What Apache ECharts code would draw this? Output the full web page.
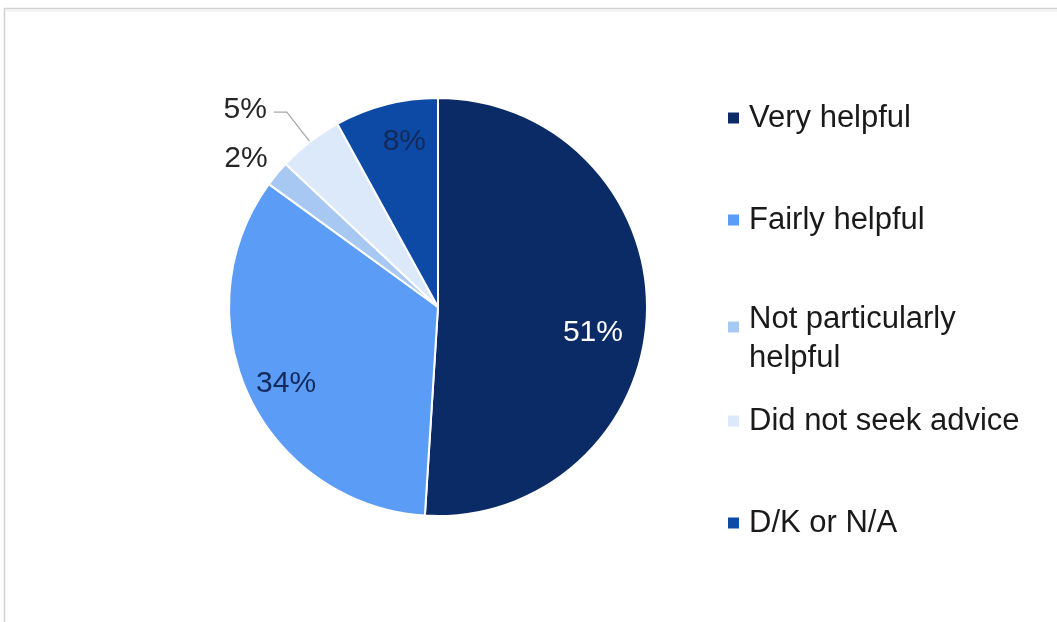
<!DOCTYPE html>
<html>
<head>
<meta charset="utf-8">
<script src="https://cdn.jsdelivr.net/npm/echarts@6/dist/echarts.min.js"></script>
<style>
  html, body { margin: 0; padding: 0; background: #ffffff; }
  #chart { width: 1057px; height: 622px; }
</style>
</head>
<body>
<div id="chart"></div>
<script>
// Survey answers: how helpful was the advice received
const categories = ['Very helpful', 'Fairly helpful', 'Not particularly helpful', 'Did not seek advice', 'D/K or N/A'];
const legendLines = [['Very helpful'], ['Fairly helpful'], ['Not particularly', 'helpful'], ['Did not seek advice'], ['D/K or N/A']];
const shares = [51, 34, 2, 5, 8];

const sliceColors = ['#0b2b67', '#5b9cf6', '#a8c8f4', '#dce9fb', '#0d4aa6'];
const labelColors = ['#ffffff', '#142a5c', '#262626', '#262626', '#142a5c'];

// where each percentage sits: fraction of the radius, and a nudge (deg) off the slice middle
const labelRadius = [0.75, 0.81, 1.166, 1.325, 0.815];
const labelTurn = [7, -1, -1.6, -6.3, 3];
const outsideLabel = [false, false, true, true, false];
const withLeader = [false, false, false, true, false];
const LABEL_DROP = 2; // digits sit a touch below the text box middle

// vertical centre of each legend swatch
const legendSwatchY = [118, 220, 327, 421, 523];

const FONT = "'Liberation Sans', Arial, sans-serif";
const CX = 438, CY = 307, R = 209;
const LEGEND_LH = 36, LEGEND_LH2 = 39, LEGEND_LEAD = 23, SWATCH = 13;

// middle angle of each slice, clockwise from 12 o'clock
const total = shares.reduce((a, b) => a + b, 0);
const midAngle = [];
let acc = 0;
shares.forEach(v => { midAngle.push((acc + v / 2) / total * 360); acc += v; });

const rad = d => d * Math.PI / 180;
const polar = (f, deg) => [CX + f * R * Math.sin(rad(deg)), CY - f * R * Math.cos(rad(deg))];

const chart = echarts.init(document.getElementById('chart'), null, { renderer: 'canvas' });

const textBase = { fontFamily: FONT, fontSize: 31, color: '#1a1a1a', padding: [0, 0, 0, 4] };

const legends = categories.map((name, i) => {
  const lines = legendLines[i];
  const multi = lines.length > 1;
  // a multi-line entry gets a short blank lead line so its first line sits beside the swatch
  const boxH = multi ? LEGEND_LEAD + lines.length * LEGEND_LH2 : LEGEND_LH;
  return {
    data: [name],
    orient: 'vertical',
    left: 726,
    top: legendSwatchY[i] - boxH / 2,
    padding: 0,
    itemWidth: SWATCH,
    itemHeight: SWATCH,
    icon: 'rect',
    selectedMode: false,
    formatter: () => multi
      ? ['{s| }'].concat(lines.map(l => '{t|' + l + '}')).join('\n')
      : lines[0],
    textStyle: Object.assign({}, textBase, {
      lineHeight: LEGEND_LH,
      rich: {
        s: { fontSize: 10, lineHeight: LEGEND_LEAD },
        t: { fontFamily: FONT, fontSize: 31, color: '#1a1a1a', lineHeight: LEGEND_LH2 }
      }
    })
  };
});

chart.setOption({
  animation: false,
  backgroundColor: '#ffffff',
  graphic: [
    {
      type: 'rect',
      shape: { x: 4.5, y: 8.5, width: 1200, height: 800 },
      style: { fill: 'none', stroke: '#d2d2d2', lineWidth: 1.5 },
      silent: true
    },
    {
      type: 'line',
      shape: { x1: 6, y1: 10.5, x2: 1057, y2: 10.5 },
      style: { stroke: '#f0f0f0', lineWidth: 2 },
      silent: true
    }
  ],
  legend: legends,
  series: [{
    type: 'pie',
    center: [CX, CY],
    radius: R,
    startAngle: 90,
    clockwise: true,
    avoidLabelOverlap: false,
    itemStyle: { borderColor: '#ffffff', borderWidth: 2 },
    emphasis: { disabled: true },
    data: categories.map((name, i) => ({
      name,
      value: shares[i],
      itemStyle: { color: sliceColors[i] },
      label: {
        show: true,
        position: outsideLabel[i] ? 'outside' : 'inside',
        formatter: shares[i] + '%',
        color: labelColors[i],
        fontFamily: FONT,
        fontSize: 30
      },
      labelLine: {
        show: withLeader[i],
        lineStyle: { color: '#a6a6a6', width: 1.2 }
      }
    })),
    labelLayout: function (p) {
      const i = p.dataIndex;
      const [x, y] = polar(labelRadius[i], midAngle[i] + labelTurn[i]);
      const out = { x, y: y + LABEL_DROP, align: 'center', verticalAlign: 'middle' };
      if (withLeader[i]) {
        const start = polar(0.96, midAngle[i]);
        const elbow = polar(1.18, midAngle[i]);
        out.labelLinePoints = [start, elbow, [elbow[0] - 13, elbow[1]]];
      }
      return out;
    }
  }]
});
</script>
</body>
</html>
